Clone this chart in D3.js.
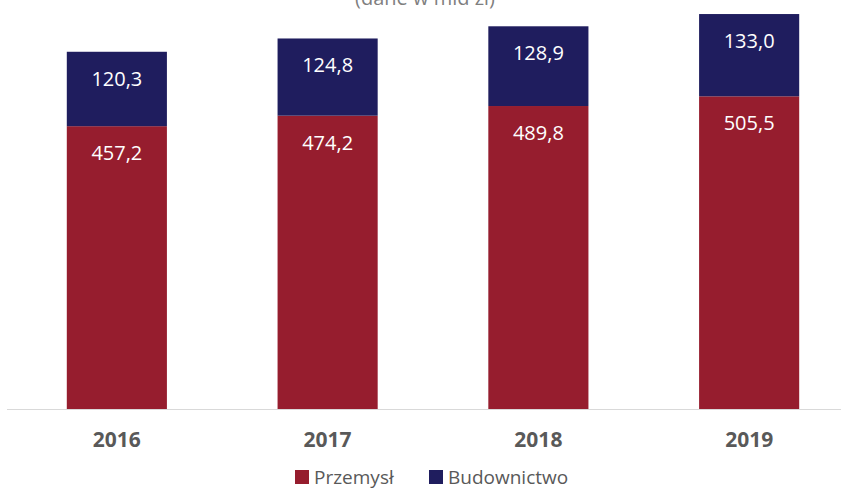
<!DOCTYPE html>
<html>
<head>
<meta charset="utf-8">
<script src="https://cdn.jsdelivr.net/npm/d3@7"></script>
<style>
  body { margin: 0; background: #fff; }
  text { font-family: "Open Sans", "DejaVu Sans", sans-serif; }
</style>
</head>
<body>
<svg id="chart"></svg>
<script>
// chart data
var years = ["2016", "2017", "2018", "2019"];
var przemysl = [457.2, 474.2, 489.8, 505.5];
var budownictwo = [120.3, 124.8, 128.9, 133.0];
var seriesNames = ["Przemysł", "Budownictwo"];
var colors = ["#961d2e", "#1f1d5e"];

var width = 841, height = 490;
var baseY = 409;

var svg = d3.select("#chart")
    .attr("width", width)
    .attr("height", height);

// scales
var x = d3.scaleBand().domain(years).range([12, 854]).paddingInner(0.525).paddingOuter(0.26);
var y = d3.scaleLinear().domain([0, 700]).range([baseY, baseY - 433]);

// title (mostly cut off at top, as in the source)
svg.append("text")
    .attr("x", 425)
    .attr("y", 5)
    .attr("text-anchor", "middle")
    .style("font-size", "20px")
    .style("fill", "#7f7f7f")
    .text("(dane w mld zł)");

// stacked data
var rows = years.map(function(d, i) {
  return {year: d, p: przemysl[i], b: budownictwo[i]};
});
var stack = d3.stack().keys(["p", "b"])(rows);

var layer = svg.selectAll(".layer")
    .data(stack)
  .enter().append("g")
    .attr("class", "layer")
    .attr("fill", function(d, i) { return colors[i]; });

layer.selectAll("rect")
    .data(function(d) { return d; })
  .enter().append("rect")
    .attr("x", function(d) { return x(d.data.year); })
    .attr("width", x.bandwidth())
    .attr("y", function(d) { return y(d[1]); })
    .attr("height", function(d) { return y(d[0]) - y(d[1]); });

// labels, inside end
layer.selectAll("text")
    .data(function(d) { return d; })
  .enter().append("text")
    .attr("x", function(d) { return x(d.data.year) + x.bandwidth() / 2; })
    .attr("y", function(d) { return y(d[1]) + 27; })
    .attr("dy", "0.35em")
    .attr("text-anchor", "middle")
    .style("font-size", "20px")
    .style("fill", "#fff")
    .text(function(d) { return d3.format(".1f")(d[1] - d[0]).replace(".", ","); });

// baseline
svg.append("line")
    .attr("x1", 7).attr("x2", 841)
    .attr("y1", baseY + 0.5).attr("y2", baseY + 0.5)
    .style("stroke", "#d9d9d9")
    .style("stroke-width", 1);

// x axis labels
svg.selectAll(".year")
    .data(years)
  .enter().append("text")
    .attr("class", "year")
    .attr("x", function(d) { return x(d) + x.bandwidth() / 2; })
    .attr("y", 440)
    .attr("dy", "0.35em")
    .attr("text-anchor", "middle")
    .style("font-size", "21px")
    .style("font-weight", "bold")
    .style("fill", "#595959")
    .text(function(d) { return d; });

// legend
var legendX = [295, 429];
var legend = svg.selectAll(".legend")
    .data(seriesNames)
  .enter().append("g")
    .attr("class", "legend")
    .attr("transform", function(d, i) { return "translate(" + legendX[i] + ",477)"; });

legend.append("rect")
    .attr("x", 0).attr("y", -7)
    .attr("width", 14).attr("height", 14)
    .attr("fill", function(d, i) { return colors[i]; });

legend.append("text")
    .attr("x", 19)
    .attr("dy", "0.35em")
    .style("font-size", "19px")
    .style("fill", "#595959")
    .text(function(d) { return d; });
</script>
</body>
</html>
